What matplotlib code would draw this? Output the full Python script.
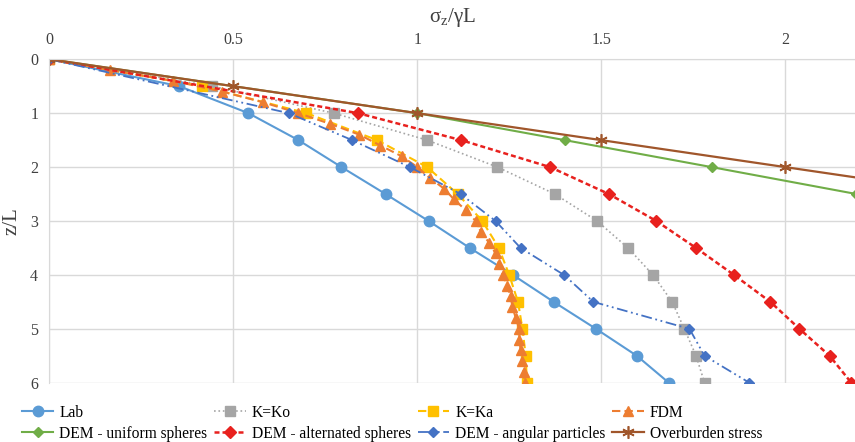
import numpy as np
import matplotlib
matplotlib.use('Agg')
import matplotlib.pyplot as plt

plt.rcParams['font.family'] = ['Liberation Serif', 'DejaVu Serif']
plt.rcParams['mathtext.fontset'] = 'custom'
plt.rcParams['mathtext.rm'] = 'Liberation Serif'
plt.rcParams['mathtext.it'] = 'Liberation Serif:italic'

# depth values z/L
z_half = [0, 0.5, 1, 1.5, 2, 2.5, 3, 3.5, 4, 4.5, 5, 5.5, 6]
z_fdm = [0, 0.2, 0.4, 0.6, 0.8, 1.0, 1.2, 1.4, 1.6, 1.8, 2.0, 2.2, 2.4, 2.6, 2.8, 3.0,
         3.2, 3.4, 3.6, 3.8, 4.0, 4.2, 4.4, 4.6, 4.8, 5.0, 5.2, 5.4, 5.6, 5.8, 6.0]
z_dem = [0, 1, 1.5, 2, 2.5, 3, 3.5, 4, 4.5, 5, 5.5, 6]
z_unif = [0, 1, 1.5, 2, 2.5, 3]

# stress values sigma_z / gamma L
lab = [0, 0.353, 0.541, 0.677, 0.794, 0.914, 1.031, 1.143, 1.26, 1.371, 1.486, 1.597, 1.684]
k_ko = [0, 0.442, 0.773, 1.027, 1.218, 1.374, 1.489, 1.573, 1.641, 1.693, 1.726, 1.758, 1.781]
k_ka = [0, 0.415, 0.699, 0.891, 1.027, 1.11, 1.177, 1.222, 1.25, 1.274, 1.286, 1.295, 1.298]
fdm = [0, 0.165, 0.336, 0.469, 0.582, 0.677, 0.764, 0.843, 0.900, 0.958, 1.0, 1.034, 1.073,
       1.10, 1.132, 1.159, 1.173, 1.195, 1.213, 1.222, 1.232, 1.245, 1.254, 1.259, 1.268,
       1.277, 1.278, 1.281, 1.286, 1.289, 1.292]
dem_uniform = [0, 1.0, 1.401, 1.80, 2.194, 2.59]
dem_alternated = [0, 0.839, 1.119, 1.361, 1.521, 1.65, 1.758, 1.861, 1.96, 2.039, 2.121, 2.18]
dem_angular = [0, 0.651, 0.823, 0.98, 1.118, 1.213, 1.281, 1.399, 1.479, 1.74, 1.781, 1.903]
overburden = [0, 0.5, 1, 1.5, 2, 2.5, 3, 3.5, 4, 4.5, 5, 5.5, 6]

fig = plt.figure(figsize=(8.55, 4.42), dpi=100)
ax = fig.add_axes([0.0577, 0.134, 0.9423, 0.732])

h_lab, = ax.plot(lab, z_half, '-o', color='#5B9BD5', lw=1.5, ms=7.5, label='Lab')
h_ko, = ax.plot(k_ko, z_half, ':s', color='#A5A5A5', lw=1.2, ms=7, label='K=Ko')
h_ka, = ax.plot(k_ka, z_half, '--s', color='#FFC000', lw=1.5, ms=7.5, dashes=(4, 2), label='K=Ka')
h_fdm, = ax.plot(fdm, z_fdm, '--^', color='#ED7D31', lw=1.5, ms=7.5, dashes=(4, 2), label='FDM')
h_uni, = ax.plot(dem_uniform, z_unif, '-D', color='#70AD47', lw=1.5, ms=5.5, label='DEM - uniform spheres')
h_alt, = ax.plot(dem_alternated, z_dem, '--D', color='#E8211E', lw=1.8, ms=6, dashes=(2, 1.2),
                 label='DEM - alternated spheres')
h_ang, = ax.plot(dem_angular, z_dem, '-D', color='#4472C4', lw=1.3, ms=5.5, dashes=(6, 2, 1, 2, 1, 2),
                 label='DEM - angular particles')
h_ovb, = ax.plot(overburden, overburden, '-', marker=(6, 2, 0), color='#A0562B', lw=1.6, ms=9,
                 mew=1.2, label='Overburden stress')

ax.set_xlim(0, 2.19)
ax.set_ylim(6, 0)
ax.set_xticks([0, 0.5, 1, 1.5, 2])
ax.set_xticklabels(['0', '0.5', '1', '1.5', '2'])
ax.set_yticks([0, 1, 2, 3, 4, 5, 6])
ax.xaxis.tick_top()
ax.xaxis.set_label_position('top')
ax.tick_params(length=0, labelsize=11.5, labelcolor='#404040', pad=8)
ax.grid(True, color='#D9D9D9', lw=1)
ax.set_axisbelow(True)
for s in ['right', 'bottom']:
    ax.spines[s].set_visible(False)
for s in ['top', 'left']:
    ax.spines[s].set_color('#D9D9D9')

ax.set_xlabel(r'σ$_\mathrm{z}$/γL', fontsize=15, color='#404040', labelpad=7)
ax.set_ylabel('z/L', fontsize=15, color='#404040', labelpad=6)

handles = [h_lab, h_uni, h_ko, h_alt, h_ka, h_ang, h_fdm, h_ovb]
fig.legend(handles=handles, labels=[h.get_label() for h in handles], ncol=4,
           loc='lower left', bbox_to_anchor=(0.015, -0.02), frameon=False,
           fontsize=11.2, handlelength=2.0, handletextpad=0.4, columnspacing=0.45,
           labelspacing=0.3, borderaxespad=0.2)

fig.savefig('out.png', dpi=100)
